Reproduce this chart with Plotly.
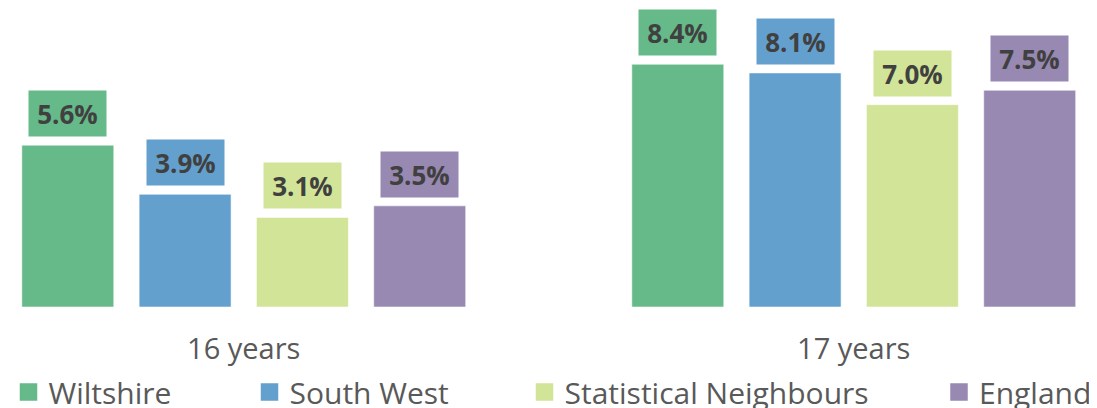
import plotly.graph_objects as go

categories = ["16 years", "17 years"]
series_names = ["Wiltshire", "South West", "Statistical Neighbours", "England"]
wiltshire = [5.6, 8.4]
south_west = [3.9, 8.1]
stat_neighbours = [3.1, 7.0]
england = [3.5, 7.5]
colors = ["#66B988", "#64A0CD", "#D2E497", "#9889B2"]

series_values = [wiltshire, south_west, stat_neighbours, england]

# The page body has an 8px default margin, so the figure is sized to fit the
# 1097x408 window from that offset.
PAGE_OFF = 8
W, H = 1097 - PAGE_OFF, 408 - PAGE_OFF
BASE = 307 - PAGE_OFF          # baseline of bars in figure pixels
PX_PER_PCT = 28.9
GROUP0 = 243.75 - PAGE_OFF     # centre of first category in figure pixels
CAT_PX = 610                   # pixels per category

BAR_GAP = 0.2308
GROUP_GAP = 0.216
slot = (1 - BAR_GAP) / len(series_names)

fig = go.Figure()
for name, vals, col in zip(series_names, series_values, colors):
    fig.add_trace(go.Bar(
        x=categories, y=vals, name=name, marker_color=col,
        marker_line=dict(color="rgba(255,255,255,0.55)", width=1),
        showlegend=False, hoverinfo="skip",
    ))

# labels in coloured boxes above bars
for i, (vals, col) in enumerate(zip(series_values, colors)):
    for gi, v in enumerate(vals):
        fig.add_annotation(
            x=gi + (i - 1.5) * slot, y=v, xref="x", yref="y",
            text=f"<b>{v:.1f}%</b>", showarrow=False,
            yanchor="bottom", yshift=8,
            bgcolor=col, width=77, height=45, borderpad=0,
            font=dict(family="Open Sans", size=26, color="#404040"),
        )

# legend entries, one legend each for exact placement
legend_text_px = [47, 288, 563, None]   # page x where each legend label starts
legend_y = (BASE - (392 - PAGE_OFF)) / BASE
for k, (name, col) in enumerate(zip(series_names, colors)):
    lname = "legend" if k == 0 else f"legend{k+1}"
    fig.add_trace(go.Scatter(
        x=[None], y=[None], mode="markers", name=name,
        marker=dict(symbol="square", size=16, color=col,
                    line=dict(color=col, width=1.5)),
        legend=lname, showlegend=True,
    ))
    if legend_text_px[k] is None:
        xpos, xanchor = 1.0, "right"
    else:
        xpos, xanchor = (legend_text_px[k] + 1.5 - 40 - PAGE_OFF) / W, "left"
    fig.update_layout(**{lname: dict(
        x=xpos, xanchor=xanchor,
        y=legend_y, yanchor="middle",
        xref="paper", yref="paper", orientation="h",
        bgcolor="rgba(0,0,0,0)", borderwidth=0,
        font=dict(family="Open Sans", size=30, color="#595959"),
    )})

fig.update_layout(
    width=W, height=H,
    margin=dict(l=0, r=0, t=0, b=H - BASE, autoexpand=False),
    paper_bgcolor="white", plot_bgcolor="white",
    barmode="group", bargap=BAR_GAP, bargroupgap=GROUP_GAP,
    font=dict(family="Open Sans", color="#595959"),
    xaxis=dict(
        type="category", range=[-GROUP0 / CAT_PX, (W - GROUP0) / CAT_PX],
        showline=False, showgrid=False, zeroline=False, ticks="",
        ticklabelstandoff=22,
        tickfont=dict(family="Open Sans", size=29, color="#595959"),
    ),
    yaxis=dict(range=[0, BASE / PX_PER_PCT], visible=False, showgrid=False, zeroline=False),
)

fig.write_html("out.html")
